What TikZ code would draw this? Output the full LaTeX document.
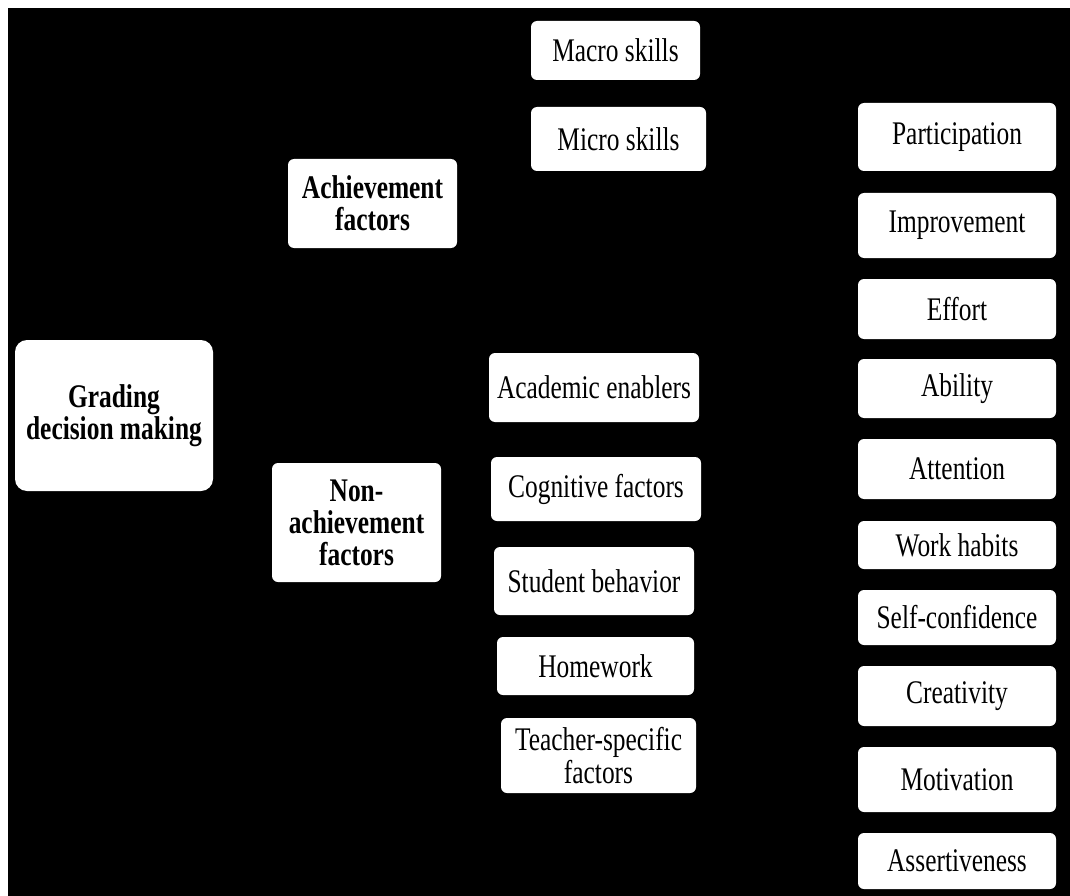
\documentclass[tikz,border=0pt]{standalone}
\usepackage{fontspec}
\setmainfont{Liberation Serif}[FakeStretch=0.77]
\usepackage{tikz}

\begin{document}
\begin{tikzpicture}[x=1pt, y=-1pt,
    box/.style={rectangle, rounded corners=6pt, fill=white, draw=none, inner sep=0pt, align=center, font=\fontsize{33}{33}\selectfont},
    boldbox/.style={box, font=\fontsize{33}{32}\selectfont\bfseries},
    rightbox/.style={box, minimum width=198pt}]

    %Canvas
    \useasboundingbox[fill=white] (0,0) rectangle (1070,896);
    \fill[black] (7.5,8) rectangle (1070,896);

    %Main factors
    \node[boldbox, rounded corners=12pt, minimum width=198pt, minimum height=151pt](grading) at (114,415.5){Grading\\decision making};
    \node[boldbox, minimum width=169pt, minimum height=89pt](achieve) at (372.5,203.5){Achievement\\factors};
    \node[boldbox, minimum width=169pt, minimum height=119pt](nonachieve) at (356.5,522.5){Non-\\achievement\\factors};

    %Achievement factors
    \node[box, minimum width=169pt, minimum height=59pt](macro) at (615.5,50.5){Macro skills};
    \node[box, minimum width=175pt, minimum height=64pt](micro) at (618.5,139){Micro skills};

    %Non-achievement factors
    \node[box, minimum width=210pt, minimum height=69pt](academic) at (594,387.5){Academic enablers};
    \node[box, minimum width=210pt, minimum height=64pt](cognitive) at (596,489){Cognitive factors};
    \node[box, minimum width=200pt, minimum height=68pt](behavior) at (594,581){Student behavior};
    \node[box, minimum width=197pt, minimum height=58pt](homework) at (595.5,666){Homework};
    \node[box, minimum width=195pt, minimum height=75pt](teacher) at (598.5,755.5){Teacher-specific\\factors};

    %Academic enablers
    \node[rightbox, minimum height=68pt](participation) at (957,137){Participation};
    \node[rightbox, minimum height=65pt](improvement) at (957,225.5){Improvement};
    \node[rightbox, minimum height=60pt](effort) at (957,309){Effort};
    \node[rightbox, minimum height=59pt](ability) at (957,388.5){Ability};
    \node[rightbox, minimum height=60pt](attention) at (957,469){Attention};
    \node[rightbox, minimum height=48pt](habits) at (957,545){Work habits};
    \node[rightbox, minimum height=55pt](confidence) at (957,617.5){Self-confidence};
    \node[rightbox, minimum height=60pt](creativity) at (957,696){Creativity};
    \node[rightbox, minimum height=65pt](motivation) at (957,779.5){Motivation};
    \node[rightbox, minimum height=56pt](assertive) at (957,861){Assertiveness};

\end{tikzpicture}
\end{document}
